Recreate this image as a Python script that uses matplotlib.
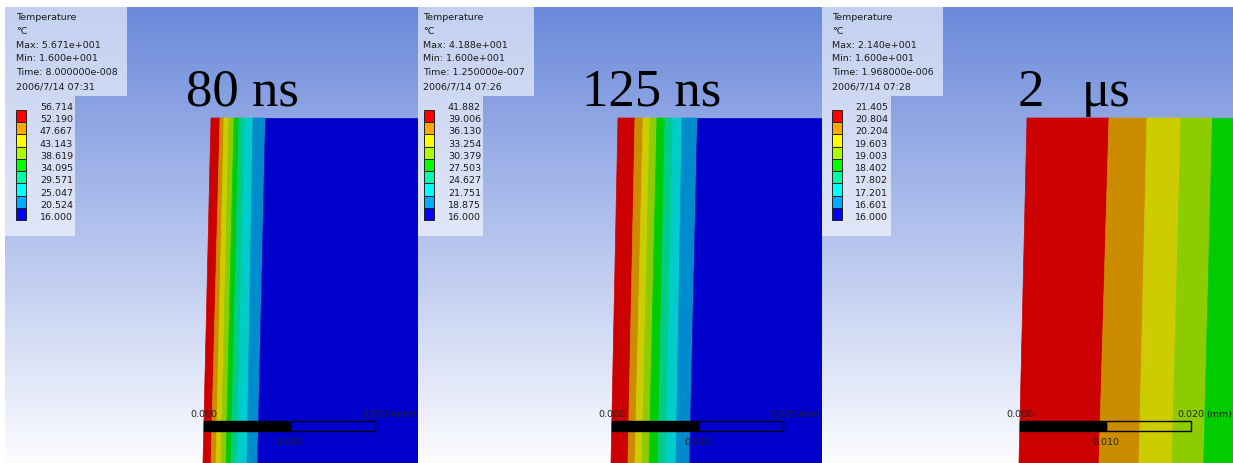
import numpy as np
import matplotlib.pyplot as plt
from matplotlib.patches import Polygon, Rectangle

# --- data ---
titles = [['80 ns'], ['125 ns'], ['2', '\u03bcs']]
max_txt = ['5.671e+001', '4.188e+001', '2.140e+001']
min_txt = ['1.600e+001', '1.600e+001', '1.600e+001']
time_txt = ['8.000000e-008', '1.250000e-007', '1.968000e-006']
date_txt = ['2006/7/14 07:31', '2006/7/14 07:26', '2006/7/14 07:28']

levels_80 = [56.714, 52.190, 47.667, 43.143, 38.619, 34.095, 29.571, 25.047, 20.524, 16.000]
levels_125 = [41.882, 39.006, 36.130, 33.254, 30.379, 27.503, 24.627, 21.751, 18.875, 16.000]
levels_2us = [21.405, 20.804, 20.204, 19.603, 19.003, 18.402, 17.802, 17.201, 16.601, 16.000]

# band edges in mm from the scale bar origin (surface first), at top and bottom of the section
edges_top_80 = [0.00082, 0.00187, 0.00234, 0.00292, 0.00351, 0.00409, 0.00480, 0.00573, 0.00713]
edges_bot_80 = [-0.00012, 0.00082, 0.00140, 0.00199, 0.00257, 0.00316, 0.00386, 0.00503, 0.00620]
edges_top_125 = [0.00070, 0.00269, 0.00363, 0.00444, 0.00526, 0.00620, 0.00713, 0.00819, 0.00994]
edges_bot_125 = [-0.00012, 0.00187, 0.00269, 0.00351, 0.00433, 0.00538, 0.00632, 0.00749, 0.00901]
edges_top_2us = [0.00082, 0.01041, 0.01485, 0.01883, 0.02246]
edges_bot_2us = [-0.00012, 0.00924, 0.01392, 0.01778, 0.02140]

legend_colors = ['#ff0000', '#ffaa00', '#ffff00', '#aaff00', '#00ff00',
                 '#00ffaa', '#00ffff', '#00aaff', '#0000ff']
band_colors = ['#cc0000', '#cc8c00', '#cccc00', '#8ccc00', '#00cc00',
               '#00cc8c', '#00cccc', '#008ccc', '#0000cc']

W, H = 1233, 463
PX = 0.020 / 171   # mm per pixel (scale bar)
TOP = 7            # white strip on top

fig = plt.figure(figsize=(W / 100, H / 100), dpi=100)
fig.patch.set_facecolor('white')

# panel layout in pixels: left, right, scale origin, legend box, text x, swatch x, label x
panels = [
    dict(x0=5, x1=418, org=204, box=(5, 127, 75), tx=16, sx=16, lx=40),
    dict(x0=418, x1=822, org=612, box=(418, 534, 483), tx=423, sx=424, lx=448),
    dict(x0=822, x1=1233, org=1020, box=(822, 943, 891), tx=832, sx=832, lx=855),
]
all_top = [edges_top_80, edges_top_125, edges_top_2us]
all_bot = [edges_bot_80, edges_bot_125, edges_bot_2us]
all_levels = [levels_80, levels_125, levels_2us]

y_sec_top = (118 - TOP) * PX
y_sec_bot = (H - TOP) * PX

grad = np.linspace(0, 1, 256)[:, None, None]
c_top = np.array([0.42, 0.54, 0.86])
c_bot = np.array([0.99, 0.99, 1.0])
img = c_top + (c_bot - c_top) * grad

for k, p in enumerate(panels):
    ax = fig.add_axes([p['x0'] / W, 0, (p['x1'] - p['x0']) / W, (H - TOP) / H])
    xl = ((p['x0'] - p['org']) * PX, (p['x1'] - p['org']) * PX)
    ax.set_xlim(xl)
    ax.set_ylim(y_sec_bot, 0)
    ax.axis('off')
    ax.imshow(img, extent=[xl[0], xl[1], y_sec_bot, 0], aspect='auto', zorder=0)

    top_e = all_top[k] + [xl[1]]
    bot_e = all_bot[k] + [xl[1]]
    for i in range(len(all_top[k])):
        poly = [(top_e[i], y_sec_top), (top_e[i + 1], y_sec_top),
                (bot_e[i + 1], y_sec_bot), (bot_e[i], y_sec_bot)]
        ax.add_patch(Polygon(poly, closed=True, fc=band_colors[i], ec=band_colors[i],
                             lw=0.5, zorder=1))

    # scale bar
    yb = (421 - TOP) * PX
    ax.add_patch(Rectangle((0, yb), 0.010, 10 * PX, fc='black', ec='black', lw=1, zorder=3))
    ax.add_patch(Rectangle((0.010, yb), 0.010, 10 * PX, fill=False, ec='black', lw=1, zorder=3))
    sfont = dict(fontsize=6.8, color='#222222', zorder=4)
    ax.text(0, (417 - TOP) * PX, '0.000', ha='center', va='baseline', **sfont)
    ax.text(0.020, (417 - TOP) * PX, '0.020', ha='center', va='baseline', **sfont)
    ax.text(0.020 + 15 * PX, (417 - TOP) * PX, '(mm)', ha='left', va='baseline', **sfont)
    ax.text(0.010, (445 - TOP) * PX, '0.010', ha='center', va='baseline', **sfont)

# overlay for legend boxes and titles, in pixel units
ui = fig.add_axes([0, 0, 1, 1], zorder=5)
ui.set_xlim(0, W)
ui.set_ylim(H, 0)
ui.axis('off')
ui.patch.set_alpha(0)

for k, p in enumerate(panels):
    b0, b1, b2 = p['box']
    ui.add_patch(Polygon([(b0, TOP), (b1, TOP), (b1, 96), (b2, 96), (b2, 236), (b0, 236)],
                         closed=True, fc='white', ec='none', alpha=0.6))
    rows = ['Temperature', '\u00b0C', 'Max: ' + max_txt[k], 'Min: ' + min_txt[k],
            'Time: ' + time_txt[k], date_txt[k]]
    for j, r in enumerate(rows):
        ui.text(p['tx'], 17.5 + j * 13.8, r, ha='left', va='center',
                fontsize=6.8, color='#1a1a1a')
    step = 110 / 9
    for i in range(9):
        ui.add_patch(Rectangle((p['sx'], 110 + i * step), 10, step,
                               fc=legend_colors[i], ec='#222222', lw=0.7))
    for i, v in enumerate(all_levels[k]):
        ui.text(p['lx'], 110 + i * step - 2.5, '%.3f' % v, ha='left', va='center',
                fontsize=6.8, color='#1a1a1a')

# title pieces: left x in pixels
title_x = [[186], [582], [1018, 1082]]
for k, parts in enumerate(titles):
    for t, x in zip(parts, title_x[k]):
        ui.text(x, 106, t, ha='left', va='baseline', fontsize=38,
                family='Liberation Serif', color='black')

fig.savefig('out.png', dpi=100)
